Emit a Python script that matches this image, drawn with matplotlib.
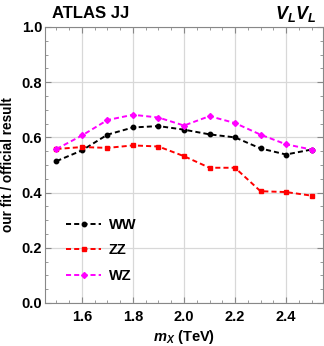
import matplotlib.pyplot as plt
from matplotlib.ticker import MultipleLocator

plt.rcParams['font.family'] = ['Liberation Sans', 'DejaVu Sans']
plt.rcParams['mathtext.fontset'] = 'custom'
plt.rcParams['mathtext.it'] = 'Liberation Sans:bold:italic'
plt.rcParams['mathtext.rm'] = 'Liberation Sans:bold'

# data
mass = [1.5, 1.6, 1.7, 1.8, 1.9, 2.0, 2.1, 2.2, 2.3, 2.4, 2.5]
ww = [0.514, 0.553, 0.610, 0.636, 0.641, 0.628, 0.611, 0.600, 0.560, 0.538, 0.556]
zz = [0.558, 0.565, 0.562, 0.571, 0.567, 0.532, 0.490, 0.490, 0.405, 0.402, 0.389]
wz = [0.558, 0.607, 0.663, 0.682, 0.672, 0.643, 0.677, 0.652, 0.610, 0.575, 0.556]
labels = ['WW', 'ZZ', 'WZ']
colors = ['black', '#ff0000', '#ff00ff']
markers = ['o', 's', 'D']
xticks = [1.6, 1.8, 2.0, 2.2, 2.4]
yticks = [0.0, 0.2, 0.4, 0.6, 0.8, 1.0]

fig = plt.figure(figsize=(3.24, 3.46), dpi=100)
ax = fig.add_axes([45 / 324, 1 - 303 / 346, 278 / 324, 276 / 346])

for ys, lab, c, m in zip([ww, zz, wz], labels, colors, markers):
    ax.plot(mass, ys, ls=(0, (2.6, 1.6)), lw=1.4, color=c, marker=m,
            ms=3.2 if m != 'D' else 3.0, label=lab)

ax.set_xlim(1.455, 2.545)
ax.set_ylim(0, 1.0)
ax.set_xticks(xticks)
ax.set_xticklabels(['%.1f' % v for v in xticks])
ax.set_yticks(yticks)
ax.set_yticklabels(['%.1f' % v for v in yticks])
ax.xaxis.set_minor_locator(MultipleLocator(0.05))
ax.yaxis.set_minor_locator(MultipleLocator(0.05))
ax.tick_params(which='both', direction='in', top=True, right=True,
               color='#888888', labelsize=10.5)
ax.tick_params(axis='y', pad=2)
ax.tick_params(axis='x', pad=5)
ax.tick_params(which='major', length=4, width=0.8)
ax.tick_params(which='minor', length=2.2, width=0.6)
for t in ax.get_xticklabels() + ax.get_yticklabels():
    t.set_fontweight('bold')
ax.grid(True, which='major', color='#d8d8d8', lw=0.9)
ax.set_axisbelow(True)
for s in ax.spines.values():
    s.set_color('#888888')
    s.set_linewidth(0.8)

ax.set_xlabel(r'$m_X$ (TeV)', fontsize=10.5, fontweight='bold')
ax.xaxis.set_label_coords(0.5, (303 - 328) / 276)
ax.set_ylabel('our fit / official result', fontsize=9.8, fontweight='bold')
ax.yaxis.set_label_coords((15 - 45) / 278, 0.5)

fig.text(52 / 324, 1 - 14 / 346, 'ATLAS JJ', fontsize=12, fontweight='bold',
         va='center', ha='left')
fig.text(316 / 324, 1 - 14 / 346, r'$V_L V_L$', fontsize=13,
         va='center', ha='right')

leg = ax.legend(loc='lower left', bbox_to_anchor=(0.03, 0.025), frameon=False,
                handlelength=2.4, labelspacing=0.8, handletextpad=0.5,
                prop={'weight': 'bold', 'size': 10.5})

fig.savefig('out.png', dpi=100)
